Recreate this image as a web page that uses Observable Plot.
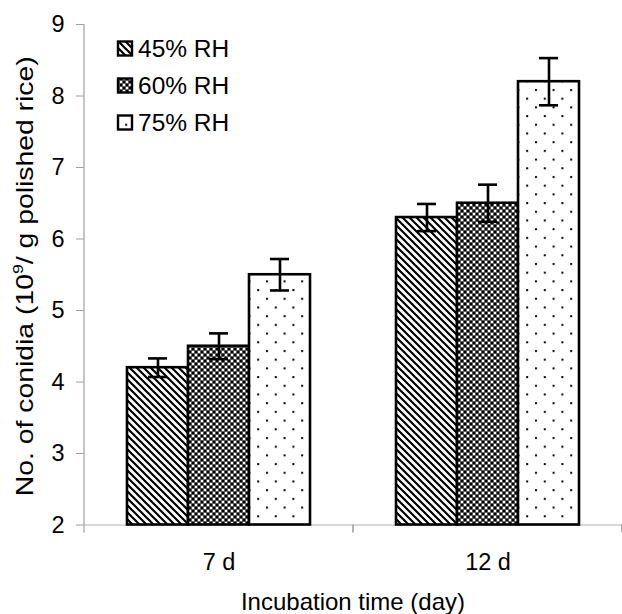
<!DOCTYPE html>
<html>
<head>
<meta charset="utf-8">
<script src="https://cdn.jsdelivr.net/npm/d3@7"></script>
<script src="https://cdn.jsdelivr.net/npm/@observablehq/plot@0.6"></script>
<style>
  html, body { margin: 0; padding: 0; background: #fff; }
  #chart svg { display: block; }
</style>
</head>
<body>
<div id="chart"></div>
<script>
const days = ["7 d", "12 d"];
const rhLevels = ["45% RH", "60% RH", "75% RH"];
const means7d = [4.2, 4.5, 5.5];
const means12d = [6.3, 6.5, 8.2];
const err7d = [0.13, 0.18, 0.22];
const err12d = [0.19, 0.26, 0.33];
const yTicks = [2, 3, 4, 5, 6, 7, 8, 9];
const yTitleMain = "No. of conidia (10";
const yTitleSup = "9";
const yTitleRest = "/ g polished rice)";
const xTitle = "Incubation time (day)";

const meansByDay = [means7d, means12d];
const errsByDay = [err7d, err12d];
const data = days.flatMap((day, i) => rhLevels.map((rh, j) => ({
  day, rh, value: meansByDay[i][j], err: errsByDay[i][j]
})));

const patternIds = ["pat45", "pat60", "pat75"];
const fills = patternIds.map(id => `url(#${id})`);
const FONT = "'Liberation Sans', Arial, Helvetica, sans-serif";

const chart = Plot.plot({
  width: 622,
  height: 614,
  marginLeft: 84,
  marginRight: 0,
  marginTop: 24,
  marginBottom: 89.5,
  style: { fontFamily: FONT, fontSize: "23px", background: "white", color: "black" },
  fx: { domain: days, padding: 0, label: null },
  x: { domain: rhLevels, paddingInner: 0, paddingOuter: 0.683, axis: null },
  y: { domain: [2, 9], label: null },
  color: { domain: rhLevels, range: fills },
  marks: [
    Plot.ruleY([2], { stroke: "#b0b0b0", strokeWidth: 1.2 }),
    Plot.barY(data, { fx: "day", x: "rh", y1: 2, y2: "value", fill: "rh", stroke: "black", strokeWidth: 2.6 }),
    Plot.ruleX(data, { fx: "day", x: "rh", y1: d => d.value - d.err, y2: d => d.value + d.err, stroke: "black", strokeWidth: 2.6 }),
    Plot.tickY(data, { fx: "day", x: "rh", y: d => d.value + d.err, insetLeft: 21, insetRight: 21, stroke: "black", strokeWidth: 2.6 }),
    Plot.tickY(data, { fx: "day", x: "rh", y: d => d.value - d.err, insetLeft: 21, insetRight: 21, stroke: "black", strokeWidth: 2.6 }),
    Plot.axisY({ ticks: yTicks, tickSize: 8, tickPadding: 12, stroke: "#a0a0a0", fill: "black", fontSize: 23.5, label: null, tickFormat: d => String(d) }),
    Plot.axisFx({ anchor: "bottom", tickSize: 0, tickPadding: 28, fontSize: 23.5, label: null, fill: "black" })
  ]
});

const svg = d3.select(chart);
const ys = chart.scale("y");
const fxs = chart.scale("fx");
const y2 = ys.apply(2), y9 = ys.apply(9);

// patterns
const defs = svg.insert("defs", ":first-child");
const p45 = defs.append("pattern").attr("id", "pat45").attr("patternUnits", "userSpaceOnUse").attr("width", 7).attr("height", 7);
p45.append("rect").attr("width", 7).attr("height", 7).attr("fill", "white");
p45.append("path").attr("d", "M-1,-1L8,8M-1,6L1,8M6,-1L8,1").attr("stroke", "black").attr("stroke-width", 2.2);
const p60 = defs.append("pattern").attr("id", "pat60").attr("patternUnits", "userSpaceOnUse").attr("width", 6).attr("height", 6);
p60.append("rect").attr("width", 6).attr("height", 6).attr("fill", "#5a5a5a");
p60.append("rect").attr("x", 0).attr("y", 0).attr("width", 2).attr("height", 2).attr("fill", "black");
p60.append("rect").attr("x", 3).attr("y", 3).attr("width", 2).attr("height", 2).attr("fill", "black");
p60.append("rect").attr("x", 3).attr("y", 0).attr("width", 2).attr("height", 2).attr("fill", "white");
p60.append("rect").attr("x", 0).attr("y", 3).attr("width", 2).attr("height", 2).attr("fill", "white");
const p75 = defs.append("pattern").attr("id", "pat75").attr("patternUnits", "userSpaceOnUse").attr("width", 17.6).attr("height", 17.4);
p75.append("rect").attr("width", 17.6).attr("height", 17.4).attr("fill", "white");
p75.append("rect").attr("x", 2).attr("y", 2).attr("width", 2).attr("height", 2).attr("fill", "black");
p75.append("rect").attr("x", 10.8).attr("y", 10.7).attr("width", 2).attr("height", 2).attr("fill", "black");

// y axis line and group boundary ticks
const leftEdges = days.map(d => fxs.apply(d));
const rightEnd = fxs.apply(days[days.length - 1]) + fxs.bandwidth;
svg.append("line").attr("x1", leftEdges[0]).attr("x2", leftEdges[0]).attr("y1", y9).attr("y2", y2 + 8)
  .attr("stroke", "#a0a0a0").attr("stroke-width", 1.2);
[...leftEdges.slice(1), rightEnd].forEach(x => {
  svg.append("line").attr("x1", x).attr("x2", x).attr("y1", y2).attr("y2", y2 + 8)
    .attr("stroke", "#a0a0a0").attr("stroke-width", 1.6);
});

// y title
const yt = svg.append("text")
  .attr("transform", `translate(33,${(y2 + y9) / 2 + 2}) rotate(-90)`)
  .attr("text-anchor", "middle").attr("font-family", FONT).attr("font-size", 24).attr("fill", "black")
  .attr("textLength", 440).attr("lengthAdjust", "spacingAndGlyphs");
yt.append("tspan").text(yTitleMain);
yt.append("tspan").attr("font-size", 15).attr("dy", -10).text(yTitleSup);
yt.append("tspan").attr("dy", 10).text(yTitleRest);

// x title
svg.append("text").attr("x", (leftEdges[0] + rightEnd) / 2).attr("y", 610)
  .attr("text-anchor", "middle").attr("font-family", FONT).attr("font-size", 24).attr("fill", "black")
  .text(xTitle);

// legend
const lg = svg.append("g").attr("font-family", FONT).attr("font-size", 24.5).attr("text-anchor", "start");
rhLevels.forEach((rh, i) => {
  const cy = 48.5 + i * 37;
  lg.append("rect").attr("x", 118).attr("y", cy - 7).attr("width", 14).attr("height", 14)
    .attr("fill", fills[i]).attr("stroke", "black").attr("stroke-width", 2.4);
  lg.append("text").attr("x", 138).attr("y", cy).attr("dy", "0.36em").attr("text-anchor", "start")
    .attr("fill", "black").text(rh);
});

document.getElementById("chart").appendChild(chart);
</script>
</body>
</html>
